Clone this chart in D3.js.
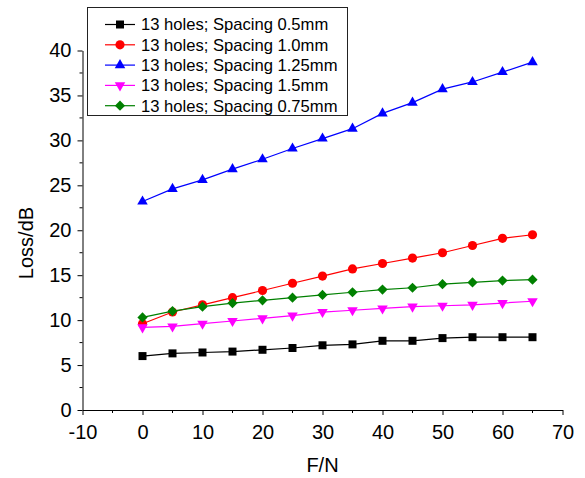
<!DOCTYPE html>
<html>
<head>
<meta charset="utf-8">
<script src="https://cdn.jsdelivr.net/npm/d3@7"></script>
<style>
  body { margin: 0; background: #fff; }
  svg { display: block; font-family: Arial, "Liberation Sans", sans-serif; }
</style>
</head>
<body>
<svg id="svg"></svg>
<script>
/*global d3*/

const forces = [0, 5, 10, 15, 20, 25, 30, 35, 40, 45, 50, 55, 60, 65];

const names = [
  "13 holes; Spacing 0.5mm",
  "13 holes; Spacing 1.0mm",
  "13 holes; Spacing 1.25mm",
  "13 holes; Spacing 1.5mm",
  "13 holes; Spacing 0.75mm"
];

const loss05  = [6.0, 6.3, 6.4, 6.5, 6.7, 6.9, 7.2, 7.3, 7.7, 7.7, 8.0, 8.1, 8.1, 8.1];
const loss10  = [9.6, 10.9, 11.7, 12.5, 13.3, 14.1, 14.9, 15.7, 16.3, 16.9, 17.5, 18.3, 19.1, 19.5];
const loss125 = [23.2, 24.6, 25.6, 26.8, 27.9, 29.1, 30.2, 31.3, 33.0, 34.2, 35.7, 36.5, 37.6, 38.7];
const loss15  = [9.2, 9.3, 9.6, 9.9, 10.2, 10.5, 10.9, 11.1, 11.3, 11.5, 11.6, 11.7, 11.9, 12.1];
const loss075 = [10.3, 11.0, 11.5, 11.9, 12.2, 12.5, 12.8, 13.1, 13.4, 13.6, 14.0, 14.2, 14.4, 14.5];

const xTicks = [-10, 0, 10, 20, 30, 40, 50, 60, 70];
const yTicks = [0, 5, 10, 15, 20, 25, 30, 35, 40];

const width = 585;
const height = 478;

const svg = d3.select("#svg").attr("width", width).attr("height", height);

const series = [
  {name: names[0], values: loss05,  color: "#000000", shape: "square"},
  {name: names[1], values: loss10,  color: "#ff0000", shape: "circle"},
  {name: names[2], values: loss125, color: "#0000ff", shape: "up"},
  {name: names[3], values: loss15,  color: "#ff00ff", shape: "down"},
  {name: names[4], values: loss075, color: "#008000", shape: "diamond"}
];

const xScale = d3.scaleLinear().domain([-10, 70]).range([82.5, 562.5]);
const yScale = d3.scaleLinear().domain([0, 40]).range([410, 50.5]);

// marker shapes
const symbolPath = shape => {
  if (shape === "square") return d3.symbol(d3.symbolSquare, 64)();
  if (shape === "circle") return d3.symbol(d3.symbolCircle, 66)();
  if (shape === "diamond") return d3.symbol(d3.symbolSquare, 52)();
  return d3.symbol(d3.symbolTriangle, 48)();
};
const symbolRotate = shape => {
  if (shape === "down") return 180;
  if (shape === "diamond") return 45;
  return 0;
};

// axes (plain hyphen for negatives, like the original)
const xAxisG = svg.append("g")
  .attr("transform", "translate(0,410)")
  .call(d3.axisBottom(xScale).tickValues(xTicks).tickFormat(d => String(d))
    .tickSizeInner(5).tickSizeOuter(0).tickPadding(10));
xAxisG.append("g").selectAll("line")
  .data(d3.range(-5, 70, 10))
  .enter().append("line")
  .attr("x1", d => xScale(d)).attr("x2", d => xScale(d))
  .attr("y1", 0).attr("y2", 3)
  .attr("stroke", "#000");

const yAxisG = svg.append("g")
  .attr("transform", "translate(82.5,0)")
  .call(d3.axisLeft(yScale).tickValues(yTicks).tickFormat(d => String(d))
    .tickSizeInner(5).tickSizeOuter(0).tickPadding(6));
yAxisG.append("g").selectAll("line")
  .data(d3.range(2.5, 40, 5))
  .enter().append("line")
  .attr("y1", d => yScale(d)).attr("y2", d => yScale(d))
  .attr("x1", 0).attr("x2", -3)
  .attr("stroke", "#000");

svg.selectAll(".tick text")
  .attr("font-size", 20)
  .attr("font-family", "Arial, 'Liberation Sans', sans-serif")
  .attr("fill", "#000");
svg.selectAll(".domain, .tick line").attr("stroke", "#000");

svg.append("text")
  .attr("x", xScale(30))
  .attr("y", 472)
  .attr("text-anchor", "middle")
  .attr("font-size", 20)
  .text("F/N");

svg.append("text")
  .attr("transform", "translate(33,243) rotate(-90)")
  .attr("text-anchor", "middle")
  .attr("font-size", 20)
  .text("Loss/dB");

// series
const line = d3.line()
  .x((d, i) => xScale(forces[i]))
  .y(d => yScale(d));

const seriesG = svg.selectAll(".series").data(series)
  .enter().append("g").attr("class", "series");

seriesG.append("path")
  .attr("d", d => line(d.values))
  .attr("fill", "none")
  .attr("stroke", d => d.color)
  .attr("stroke-width", 1.2);

seriesG.each(function(s) {
  d3.select(this).selectAll(".pt").data(s.values)
    .enter().append("path")
    .attr("class", "pt")
    .attr("d", symbolPath(s.shape))
    .attr("transform", (d, i) =>
      `translate(${xScale(forces[i])},${yScale(d)}) rotate(${symbolRotate(s.shape)})`)
    .attr("fill", s.color);
});

// legend
const legend = svg.append("g");
legend.append("rect")
  .attr("x", 87.5).attr("y", 7.5)
  .attr("width", 260).attr("height", 108)
  .attr("fill", "#fff")
  .attr("stroke", "#222")
  .attr("stroke-width", 1);

const legendItems = legend.selectAll(".item").data(series)
  .enter().append("g")
  .attr("class", "item")
  .attr("transform", (d, i) => `translate(0,${24.5 + i * 20.3})`);

legendItems.append("line")
  .attr("x1", 105).attr("x2", 135)
  .attr("stroke", d => d.color)
  .attr("stroke-width", 1.2);

legendItems.append("path")
  .attr("d", d => symbolPath(d.shape))
  .attr("transform", d => `translate(120,0) rotate(${symbolRotate(d.shape)})`)
  .attr("fill", d => d.color);

legendItems.append("text")
  .attr("x", 141)
  .attr("dy", "0.35em")
  .attr("font-size", 16.6)
  .text(d => d.name);
</script>
</body>
</html>
